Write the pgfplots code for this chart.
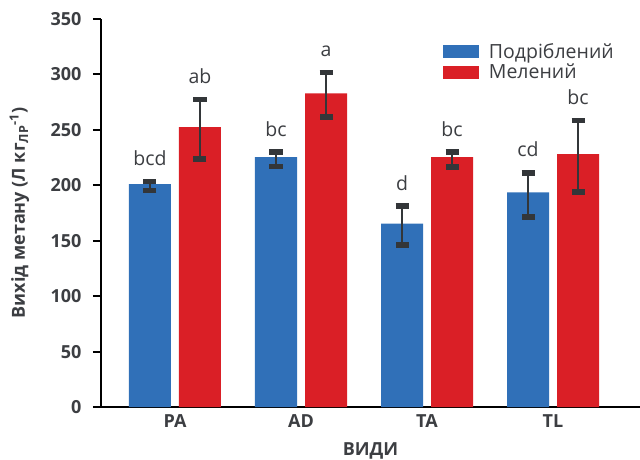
\documentclass[border=0pt]{standalone}
\usepackage{pgfplots}
\pgfplotsset{compat=1.18}
\usepackage{fontspec}
\setmainfont{Open Sans}
\definecolor{cblue}{RGB}{48,112,184}
\definecolor{cred}{RGB}{218,31,38}
\definecolor{errc}{RGB}{51,54,57}
\definecolor{textc}{RGB}{60,62,66}
\newcommand{\fs}{\fontsize{18bp}{21bp}\selectfont}
\newcommand{\fr}{\fontsize{19.5bp}{22bp}\selectfont}
\begin{document}
\begin{tikzpicture}
\begin{axis}[name=ax, scale only axis, width=539bp, height=388bp,
  xmin=-0.5873, xmax=3.6905, ymin=0, ymax=350,
  axis x line*=bottom, axis y line*=left,
  axis line style={line width=2bp, black},
  xtick={0,1,2,3}, xticklabels={PA,AD,TA,TL},
  x tick style={draw=none},
  ytick={0,50,...,350},
  y tick style={line width=2bp, black},
  tick align=outside, major tick length=8bp,
  font=\fs,
  ticklabel style={text=textc, font=\fs\bfseries},
  /pgf/number format/assume math mode=true,
  xticklabel style={anchor=base, yshift=-12bp},
  yticklabel style={xshift=-8bp},
  xlabel={ВИДИ},
  xlabel style={at={(axis description cs:0.5,-0.126)}, anchor=base, font=\fs\bfseries, text=textc},
  ylabel={Вихід метану (Л кг\textsubscript{ЛР}\textsuperscript{-1})},
  ylabel style={at={(axis description cs:-0.141,0.5)}, anchor=base, font=\fs\bfseries, text=textc},
  ybar, bar width=42bp,
  error bars/y dir=both, error bars/y explicit,
  error bars/error mark=|,
  error bars/error bar style={line width=2bp, errc},
  error bars/error mark options={line width=5.5bp, mark size=6.5bp, errc},
  legend image code/.code={\fill[#1] (0bp,-6.5bp) rectangle (36bp,6.5bp);},
  legend cell align=left,
  legend style={at={(axis description cs:0.634,0.942)}, anchor=north west, draw=none, fill=none,
    inner sep=0pt, row sep=0bp, font=\fr, text=textc,
    /tikz/every odd column/.append style={column sep=8bp}},
]
\addplot[fill=cblue, draw=none, bar shift=-25bp] coordinates {
  (0,201) += (0,2.2) -= (0,5.9)
  (1,225.5) += (0,4.5) -= (0,8.7)
  (2,165.5) += (0,15.8) -= (0,19.4)
  (3,193.5) += (0,17.6) -= (0,22.1)
};
\addlegendentry{Подрiблений}
\addplot[fill=cred, draw=none, bar shift=25bp] coordinates {
  (0,252.5) += (0,24.7) -= (0,28.8)
  (1,283) += (0,18.6) -= (0,21.4)
  (2,225.5) += (0,4.5) -= (0,9)
  (3,228) += (0,30.3) -= (0,34.1)
};
\addlegendentry{Мелений}
\begin{scope}[every node/.style={anchor=base, yshift=16bp, text=textc, font=\fr, inner sep=0pt}]
\node[xshift=-25bp] at (axis cs:0,203.2) {bcd};
\node[xshift=25bp] at (axis cs:0,277.2) {ab};
\node[xshift=-25bp] at (axis cs:1,230.0) {bc};
\node[xshift=25bp] at (axis cs:1,301.6) {a};
\node[xshift=-25bp] at (axis cs:2,181.3) {d};
\node[xshift=25bp] at (axis cs:2,230.0) {bc};
\node[xshift=-25bp] at (axis cs:3,211.1) {cd};
\node[xshift=25bp] at (axis cs:3,258.3) {bc};
\end{scope}
\end{axis}
\pgfresetboundingbox
\path ([xshift=-101bp,yshift=-53bp]ax.south west) rectangle ([yshift=19bp]ax.north east);
\end{tikzpicture}
\end{document}
